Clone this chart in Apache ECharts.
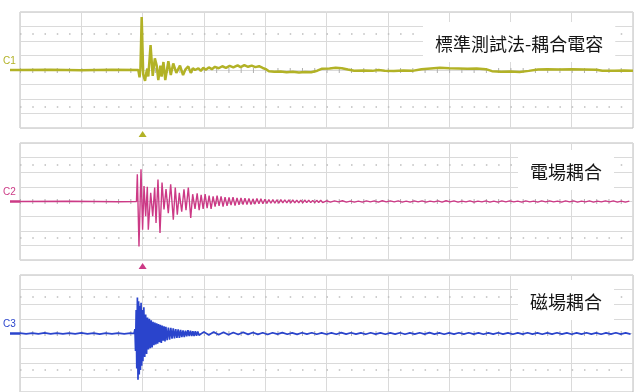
<!DOCTYPE html>
<html>
<head>
<meta charset="utf-8">
<script src="https://cdn.jsdelivr.net/npm/echarts@6/dist/echarts.min.js"></script>
<style>
  html, body { margin: 0; padding: 0; background: #fff; }
  #chart { width: 637px; height: 392px; }
</style>
</head>
<body>
<div id="chart"></div>
<script>
// time axis in divisions (0..10), amplitude in divisions (-4..4)
const channelNames = ["C1", "C2", "C3"];
const panelTitles = ["標準測試法-耦合電容", "電場耦合", "磁場耦合"];
const channelColors = ["#b2b226", "#cc3a86", "#2a44cc"];
const triggerTime = 2;

// C1: capacitive coupling clamp (yellow)
const c1Trace = [
  [0, 0], [0.5, 0.02], [1.0, -0.01], [1.5, 0.02], [1.93, 0],
  [1.95, -0.5], [1.965, 0.1], [1.985, 3.65], [2.01, -0.3], [2.04, -0.75], [2.06, -0.2],
  [2.077, 0.1], [2.093, -0.45], [2.13, 1.72], [2.165, -0.4], [2.2, 0.8], [2.23, 0.3],
  [2.256, -0.7], [2.29, 0.3], [2.31, -0.45], [2.34, 0.55], [2.37, -0.7], [2.42, 0.6],
  [2.46, -0.35], [2.5, 0.45], [2.55, -0.2], [2.61, 0.3], [2.66, -0.35], [2.7, 0.05],
  [2.745, 0.25], [2.785, -0.2], [2.82, 0.12], [2.855, 0.0], [2.88, -0.12], [2.91, 0.12],
  [2.95, -0.06], [2.99, 0.15], [3.03, 0.02], [3.08, 0.18], [3.13, 0.06], [3.18, 0.22],
  [3.24, 0.12], [3.3, 0.26], [3.36, 0.15], [3.42, 0.28], [3.48, 0.18], [3.55, 0.32],
  [3.6, 0.2], [3.66, 0.33], [3.72, 0.22], [3.78, 0.3], [3.84, 0.2], [3.9, 0.26],
  [3.96, 0.14], [4.02, 0.04], [4.06, -0.08], [4.15, -0.12], [4.25, -0.1], [4.35, -0.16],
  [4.45, -0.12], [4.55, -0.18], [4.65, -0.13], [4.75, -0.15], [4.85, -0.05], [4.92, 0.08],
  [5.05, 0.1], [5.15, 0.16], [5.25, 0.12], [5.35, 0.03], [5.45, -0.05], [5.6, -0.04],
  [5.75, -0.06], [5.85, 0.0], [5.95, -0.05], [6.1, -0.07], [6.25, -0.04], [6.4, -0.06],
  [6.55, 0.05], [6.7, 0.1], [6.85, 0.15], [7.0, 0.12], [7.15, 0.1], [7.3, 0.08],
  [7.45, 0.1], [7.6, 0.06], [7.7, -0.08], [7.85, -0.12], [8.0, -0.1], [8.15, -0.13],
  [8.3, -0.06], [8.45, 0.04], [8.6, 0.06], [8.8, 0.03], [9.0, 0.06], [9.2, 0.04],
  [9.4, 0.02], [9.5, -0.05], [9.7, -0.06], [9.85, -0.03], [10, -0.05]
];

// C2: electric field coupling (magenta)
const c2Pre = [[0, 0], [0.8, 0.02], [1.6, -0.02], [1.9, 0]];
const c2Burst = [
  [1.914, 1.86], [1.941, -3.08], [1.974, 2.2], [2.0, -1.93], [2.023, 1.06], [2.05, -1.0],
  [2.077, 1.0], [2.093, -1.93], [2.132, 0.6], [2.165, -1.0], [2.197, 0.95], [2.219, -1.47],
  [2.251, 1.5], [2.284, -2.15], [2.317, 1.3], [2.349, -0.55], [2.382, 0.85], [2.419, -0.8],
  [2.458, 1.17], [2.501, -1.25], [2.533, 0.95], [2.566, -0.9], [2.599, 0.6], [2.638, -0.7],
  [2.675, 0.83], [2.708, -0.6], [2.746, 0.95], [2.785, -1.13], [2.817, 0.5], [2.855, -0.5]
];
const c2RingStart = 2.89, c2RingStep = 0.0325;
const c2Ring = [
  0.55, -0.6, 0.45, -0.5, 0.5, -0.45, 0.4, -0.5, 0.35, -0.35, 0.4, -0.3, 0.35, -0.35,
  0.3, -0.3, 0.28, -0.25, 0.3, -0.28, 0.25, -0.22, 0.25, -0.2, 0.22, -0.2, 0.2, -0.2,
  0.18, -0.18, 0.2, -0.16, 0.18, -0.15,
  0.15, -0.13, 0.14, -0.12, 0.13, -0.12, 0.12, -0.11, 0.13, -0.1, 0.12, -0.1, 0.11,
  -0.1, 0.11, -0.09, 0.1, -0.1, 0.09, -0.09, 0.1, -0.08, 0.09, -0.08, 0.08, -0.08,
  0.08, -0.07, 0.08, -0.07, 0.06
];
const c2TailStart = 5.0, c2TailStep = 0.065;
const c2Tail = [
  0.05, -0.04, 0.04, -0.03, 0.05, -0.04, 0.03, -0.04, 0.03, -0.04,
  0.04, -0.03, 0.04, -0.04, 0.05, -0.03, 0.04, -0.03, 0.04, -0.04,
  0.03, -0.04, 0.04, -0.03, 0.04, -0.04, 0.03, -0.03, 0.04, -0.04,
  0.05, -0.03, 0.04, -0.04, 0.03, -0.03, 0.04, -0.04, 0.03, -0.03,
  0.04, -0.04, 0.03, -0.04, 0.04, -0.03, 0.04, -0.03, 0.03, -0.04,
  0.04, -0.03, 0.03, -0.04, 0.04, -0.03, 0.04, -0.03, 0.03, -0.04,
  0.04, -0.03, 0.04, -0.04, 0.03, -0.03, 0.04, -0.04, 0.03, -0.03,
  0.04, -0.03, 0.04, -0.04, 0.03, -0.04, 0.03
];

// C3: magnetic field coupling (blue)
const c3PreStep = 0.1;
const c3Pre = [
  0.02, -0.03, 0.03, -0.02, 0.04, -0.02, 0.03, -0.03, 0.02, -0.03,
  0.04, -0.02, 0.03, -0.04, 0.02, -0.03, 0.03, -0.03, 0.02
];
const c3Burst = [
  [1.86, 0], [1.875, 0.3], [1.885, -1.2], [1.895, 1.6], [1.905, -2.4], [1.915, 2.46],
  [1.925, -3.17], [1.935, 2.2], [1.945, -2.8], [1.955, 1.9], [1.965, -2.5], [1.975, 2.1],
  [1.985, -2.2], [1.995, 1.6], [2.005, -1.9], [2.02, 1.8], [2.035, -1.6], [2.05, 1.3],
  [2.065, -1.4], [2.08, 1.1], [2.095, -1.1], [2.11, 1.0], [2.125, -1.0], [2.14, 0.9],
  [2.155, -0.95], [2.17, 0.8], [2.185, -0.8], [2.2, 0.75], [2.215, -0.75], [2.23, 0.7],
  [2.245, -0.7], [2.26, 0.65], [2.275, -0.6], [2.29, 0.6], [2.305, -0.65], [2.32, 0.55],
  [2.335, -0.5], [2.35, 0.5], [2.365, -0.55], [2.38, 0.45], [2.4, -0.45], [2.42, 0.4],
  [2.44, -0.42], [2.46, 0.38], [2.48, -0.35], [2.5, 0.35], [2.52, -0.33], [2.54, 0.3],
  [2.56, -0.3], [2.58, 0.28], [2.6, -0.3], [2.62, 0.25], [2.64, -0.25], [2.66, 0.22],
  [2.68, -0.24], [2.7, 0.2], [2.72, -0.2], [2.74, 0.22], [2.76, -0.18], [2.78, 0.2],
  [2.8, -0.18], [2.82, 0.15], [2.84, -0.17], [2.86, 0.15], [2.88, -0.15], [2.9, 0.13]
];
const c3TailStart = 2.92, c3TailStep = 0.08;
const c3Tail = [
  -0.12, 0.11, -0.1, 0.1, -0.09, 0.08, -0.09, 0.07, -0.07, 0.08,
  -0.06, 0.07, -0.06, 0.05, -0.07, 0.05, -0.04, 0.06, -0.05, 0.04,
  -0.06, 0.05, -0.04, 0.05, -0.05, 0.04, -0.05, 0.04, -0.05, 0.06,
  -0.04, 0.05, -0.04, 0.04, -0.05, 0.05, -0.04, 0.04, -0.05, 0.04,
  -0.04, 0.05, -0.05, 0.04, -0.04, 0.05, -0.04, 0.06, -0.04, 0.04,
  -0.05, 0.04, -0.04, 0.05, -0.04, 0.05, -0.04, 0.04, -0.05, 0.04,
  -0.04, 0.05, -0.04, 0.04, -0.05, 0.04, -0.04, 0.05, -0.04, 0.04,
  -0.05, 0.04, -0.04, 0.05, -0.04, 0.04, -0.05, 0.04, -0.04, 0.05,
  -0.04, 0.04, -0.05, 0.04, -0.04, 0.05, -0.04, 0.04, -0.04
];

function stepped(start, step, values) {
  return values.map((v, i) => [+(start + i * step).toFixed(4), v]);
}

const traces = [
  c1Trace,
  c2Pre.concat(c2Burst, stepped(c2RingStart, c2RingStep, c2Ring), stepped(c2TailStart, c2TailStep, c2Tail)),
  stepped(0, c3PreStep, c3Pre).concat(c3Burst, stepped(c3TailStart, c3TailStep, c3Tail))
];
const traceWidths = [2.5, 1.4, 1.7];

const panels = [
  { top: 12, height: 116 },
  { top: 143, height: 117 },
  { top: 275, height: 117 }
];
const titleBoxes = [
  { left: 423, top: 22 },
  { left: 518, top: 150 },
  { left: 518, top: 280 }
];

const chart = echarts.init(document.getElementById("chart"));

const option = {
  backgroundColor: "#ffffff",
  animation: false,
  title: panelTitles.map((t, i) => ({
    text: t,
    left: titleBoxes[i].left,
    top: titleBoxes[i].top,
    backgroundColor: "#ffffff",
    padding: [11, 12, 7, 12],
    textStyle: {
      fontFamily: "Noto Sans CJK TC",
      fontSize: 18,
      fontWeight: "normal",
      color: "#151515",
      lineHeight: 22
    },
    z: 10
  })),
  grid: panels.map((p) => ({
    left: 20,
    right: 4,
    top: p.top,
    height: p.height,
    show: true,
    borderColor: "#bcbcbc",
    borderWidth: 1,
    backgroundColor: "#ffffff"
  })),
  xAxis: panels.map((p, i) => ({
    type: "value",
    gridIndex: i,
    min: 0,
    max: 10,
    interval: 1,
    axisLabel: { show: false },
    axisTick: { show: false },
    axisLine: { show: false },
    splitLine: { lineStyle: { color: "#dadada", width: 1 } }
  })),
  yAxis: panels.map((p, i) => ({
    type: "value",
    gridIndex: i,
    min: -4,
    max: 4,
    interval: 1,
    axisLabel: { show: false },
    axisTick: { show: false },
    axisLine: { show: false },
    splitLine: { lineStyle: { color: "#dadada", width: 1 } }
  })),
  series: [].concat(
    // graticule dots and centre ticks
    panels.map((p, i) => ({
      type: "line",
      xAxisIndex: i,
      yAxisIndex: i,
      data: [],
      silent: true,
      markLine: {
        z: 1,
        silent: true,
        symbol: ["none", "none"],
        label: { show: false },
        animation: false,
        data: [
          { yAxis: 2.5, lineStyle: { color: "#bdbdbd", width: 1.5, type: [1.5, 10.76] } },
          { yAxis: -2.5, lineStyle: { color: "#bdbdbd", width: 1.5, type: [1.5, 10.76] } },
          { yAxis: 0, lineStyle: { color: "#b0b0b0", width: 5, type: [1, 11.26] } }
        ]
      }
    })),
    traces.map((d, i) => ({
      type: "line",
      name: channelNames[i],
      xAxisIndex: i,
      yAxisIndex: i,
      data: d,
      showSymbol: false,
      symbol: "none",
      sampling: null,
      z: 3,
      lineStyle: { color: channelColors[i], width: traceWidths[i] }
    }))
  )
};

chart.setOption(option);

// channel markers on the left edge and trigger arrows under panels
const graphics = [];
panels.forEach((p, i) => {
  const c = chart.convertToPixel({ gridIndex: i }, [0, 0]);
  graphics.push({
    type: "line",
    shape: { x1: c[0] - 10, y1: c[1], x2: c[0], y2: c[1] },
    style: { stroke: channelColors[i], lineWidth: 2.5 },
    z: 5
  });
  graphics.push({
    type: "text",
    x: c[0] - 17,
    y: c[1] - 14,
    style: { text: channelNames[i], fill: channelColors[i], font: "10px Liberation Sans" },
    z: 5
  });
  if (i < 2) {
    const b = chart.convertToPixel({ gridIndex: i }, [triggerTime, -4]);
    graphics.push({
      type: "polygon",
      shape: { points: [[b[0], b[1] + 3], [b[0] - 4, b[1] + 9], [b[0] + 4, b[1] + 9]] },
      style: { fill: channelColors[i] },
      z: 5
    });
  }
});
chart.setOption({ graphic: graphics });
</script>
</body>
</html>
